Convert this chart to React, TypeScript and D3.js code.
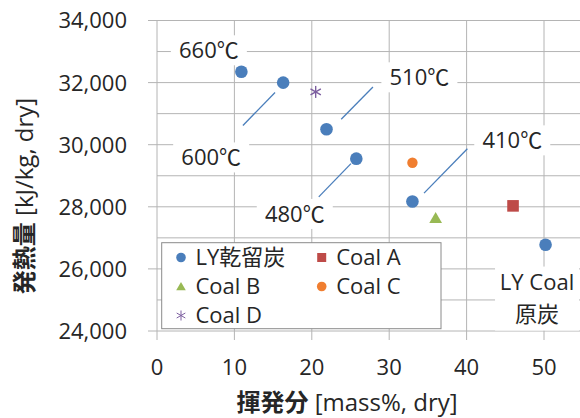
import React from "react";
import * as d3 from "d3";

const W = 580;
const H = 418;

const xTicks = [0, 10, 20, 30, 40, 50];
const yTicks = [24000, 26000, 28000, 30000, 32000, 34000];
const yMinor = [25000, 27000, 29000, 31000, 33000];

// LY 乾留炭 (volatile %, heating value)
const lyX = [10.9, 16.3, 21.9, 25.75, 33.0, 50.2];
const lyY = [32350, 32000, 30500, 29550, 28170, 26780];
const coalA = [46.0, 28030];
const coalB = [36.0, 27600];
const coalC = [33.0, 29420];
const coalD = [20.5, 31700];

// temperature annotations: text, label x, label y
const labelText = ["660", "600", "510", "480", "410"];
const labelX = [6.7, 7.0, 33.9, 17.8, 45.9];
const labelY = [33040, 29590, 32170, 27770, 30140];
// leader lines: x1, y1, x2, y2
const leaderX1 = [11.1, 23.8, 20.9, 34.5];
const leaderY1 = [30620, 30820, 28320, 28440];
const leaderX2 = [15.25, 27.9, 25.06, 40.1];
const leaderY2 = [31680, 31860, 29390, 29870];

const rawLabel = ["LY Coal", "原炭"];
const rawX = 49.1;
const rawY = [25560, 24550];

const legendItems = ["LY乾留炭", "Coal A", "Coal B", "Coal C", "Coal D"];

const BLUE = "#4a7ebb";
const RED = "#be4b48";
const GREEN = "#98b954";
const ORANGE = "#f07e30";
const PURPLE = "#7d5fa0";
const GRID = "#b4b4b4";
const TXT = "#262626";
const FONT = "'Open Sans', 'Noto Sans CJK JP', sans-serif";
const CJK = "'Noto Sans CJK JP', sans-serif";
const FS = 22;

export default function App() {
  const x = d3.scaleLinear().domain([0, 55]).range([157, 582.7]);
  const y = d3.scaleLinear().domain([24000, 34000]).range([331, 20.5]);
  const x0 = x(0);
  const yBottom = y(24000);

  const tri = d3.symbol().type(d3.symbolTriangle).size(70);
  const triSmall = d3.symbol().type(d3.symbolTriangle).size(40);

  const asterisk = (cx: number, cy: number, r: number, color: string, sw: number) => (
    <g stroke={color} strokeWidth={sw}>
      {[0, 60, 120].map((a) => {
        const rad = (a * Math.PI) / 180;
        return (
          <line
            key={a}
            x1={cx + r * Math.sin(rad)}
            y1={cy - r * Math.cos(rad)}
            x2={cx - r * Math.sin(rad)}
            y2={cy + r * Math.cos(rad)}
          />
        );
      })}
    </g>
  );

  const lx1 = 181;
  const lx2 = 321.7;
  const ly0 = 257.5;
  const ldy = 29;
  const legendPos = [
    [lx1, ly0],
    [lx2, ly0],
    [lx1, ly0 + ldy],
    [lx2, ly0 + ldy],
    [lx1, ly0 + 2 * ldy],
  ];

  const labelW = 64;

  return (
    <svg width={W} height={H} style={{ position: "absolute", left: 0, top: 0, background: "#fff" }} fontFamily={FONT}>
      <rect x={0} y={0} width={W} height={H} fill="#fff" />
      {/* horizontal grid */}
      {yMinor.map((v) => (
        <line key={"m" + v} x1={x0} x2={W} y1={y(v)} y2={y(v)} stroke={GRID} strokeWidth={1} />
      ))}
      {yTicks.map((v) => (
        <line key={"g" + v} x1={x0 - 9} x2={W} y1={y(v)} y2={y(v)} stroke={GRID} strokeWidth={1} />
      ))}
      {/* vertical grid */}
      {xTicks.map((v) => (
        <line key={"v" + v} x1={x(v)} x2={x(v)} y1={y(34000)} y2={yBottom + 9} stroke={GRID} strokeWidth={1} />
      ))}
      {/* y tick labels */}
      {yTicks.map((v) => (
        <text key={"yl" + v} x={127} y={y(v)} dy="0.36em" textAnchor="end" fontSize={FS} fill={TXT}>
          {d3.format(",")(v)}
        </text>
      ))}
      {/* x tick labels */}
      {xTicks.map((v) => (
        <text key={"xl" + v} x={x(v)} y={374.5} textAnchor="middle" fontSize={FS} fill={TXT}>
          {v}
        </text>
      ))}
      {/* axis titles */}
      <text x={347} y={411} textAnchor="middle" fontSize={24} fill={TXT}>
        <tspan fontWeight="bold" fontFamily={CJK}>揮発分</tspan> [mass%, dry]
      </text>
      <text transform={`translate(33, 196) rotate(-90)`} textAnchor="middle" fontSize={24} fill={TXT}>
        <tspan fontWeight="bold" fontFamily={CJK}>発熱量</tspan> [kJ/kg, dry]
      </text>

      {/* leader lines */}
      {leaderX1.map((v, i) => (
        <line
          key={"ld" + i}
          x1={x(v)}
          y1={y(leaderY1[i])}
          x2={x(leaderX2[i])}
          y2={y(leaderY2[i])}
          stroke={BLUE}
          strokeWidth={1.3}
        />
      ))}

      {/* temperature labels */}
      {labelText.map((t, i) => (
        <g key={"lb" + i}>
          <rect x={x(labelX[i]) - labelW / 2 - 6} y={y(labelY[i]) - 15} width={labelW + 12} height={30} fill="#fff" />
          <text x={x(labelX[i])} y={y(labelY[i])} dy="0.36em" textAnchor="middle" fontSize={FS} fill={TXT}>
            {t}
            <tspan fontFamily={CJK}>℃</tspan>
          </text>
        </g>
      ))}
      {/* raw coal label */}
      <rect x={x(rawX) - 42} y={y(rawY[0]) - 16} width={84} height={64} fill="#fff" />
      {rawLabel.map((t, i) => (
        <text key={"rl" + i} x={x(rawX)} y={y(rawY[i])} dy="0.36em" textAnchor="middle" fontSize={FS} fill={TXT}>
          {t}
        </text>
      ))}

      {/* legend */}
      <rect x={161.7} y={242.7} width={279.3} height={86} fill="#fff" stroke="#8a8a8a" strokeWidth={1} />
      {legendItems.map((t, i) => (
        <text key={"lg" + i} x={legendPos[i][0] + 14.5} y={legendPos[i][1]} dy="0.36em" fontSize={FS} fill={TXT}>
          {t}
        </text>
      ))}
      <circle cx={legendPos[0][0]} cy={legendPos[0][1]} r={4.8} fill={BLUE} />
      <rect x={legendPos[1][0] - 4.5} y={legendPos[1][1] - 4.5} width={9} height={9} fill={RED} />
      <path d={triSmall() as string} transform={`translate(${legendPos[2][0]},${legendPos[2][1] + 1})`} fill={GREEN} />
      <circle cx={legendPos[3][0]} cy={legendPos[3][1]} r={4.8} fill={ORANGE} />
      {asterisk(legendPos[4][0], legendPos[4][1], 5, PURPLE, 1)}

      {/* data points */}
      {lyX.map((v, i) => (
        <circle key={"ly" + i} cx={x(v)} cy={y(lyY[i])} r={6.3} fill={BLUE} />
      ))}
      <rect x={x(coalA[0]) - 5.8} y={y(coalA[1]) - 5.8} width={11.6} height={11.6} fill={RED} />
      <path d={tri() as string} transform={`translate(${x(coalB[0])},${y(coalB[1])})`} fill={GREEN} />
      <circle cx={x(coalC[0])} cy={y(coalC[1])} r={5.2} fill={ORANGE} />
      {asterisk(x(coalD[0]), y(coalD[1]), 6, PURPLE, 1.4)}
    </svg>
  );
}
